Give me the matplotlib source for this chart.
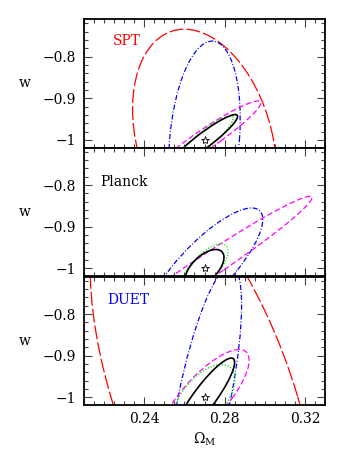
import numpy as np
import matplotlib
matplotlib.use("Agg")
import matplotlib.pyplot as plt
from matplotlib.patches import Ellipse
from matplotlib.ticker import FixedLocator, FixedFormatter, MultipleLocator

plt.rcParams['font.family'] = ['DejaVu Serif']
plt.rcParams['mathtext.fontset'] = 'dejavuserif'
plt.rcParams['lines.scale_dashes'] = False

# ---------------- data ----------------
panel_names = ["SPT", "Planck", "DUET"]
panel_label_colors = ["#ff0000", "#000000", "#0000ff"]

fid_om = 0.27      # fiducial Omega_M (star)
fid_w = -1.0       # fiducial w (star)

# contour order: red, blue, magenta, green, black
contour_colors = ["#ff0000", "#0000ff", "#ff00ff", "#00ee00", "#000000"]

# half-extent in Omega_M, half-extent in w, correlation  (nan = not shown)
spt_om_extent = [0.0358, 0.0178, 0.0280, 0.0142, 0.0165]
spt_w_extent = [0.2655, 0.2370, 0.0935, 0.0580, 0.0610]
spt_corr = [-0.28, 0.213, 0.95, 0.90, 0.93]

planck_om_extent = [np.nan, 0.0290, 0.0535, 0.0117, 0.0097]
planck_w_extent = [np.nan, 0.1450, 0.1730, 0.0590, 0.0455]
planck_corr = [np.nan, 0.81, 0.98, 0.70, 0.58]

duet_om_extent = [0.0569, 0.01846, 0.0222, 0.0152, 0.0150]
duet_w_extent = [0.533, 0.315, 0.115, 0.079, 0.0945]
duet_corr = [-0.576, 0.70, 0.775, 0.55, 0.89]

x_ticks = [0.24, 0.28, 0.32]
x_tick_labels = ["0.24", "0.28", "0.32"]
y_ticks = [-1.0, -0.9, -0.8]
y_tick_labels = ["\u22121", "\u22120.9", "\u22120.8"]

# ---------------- styling ----------------
styles = [
    dict(ls=(0, (10, 2.2)), lw=0.9),
    dict(ls=(0, (3.6, 1.4, 0.7, 1.4)), lw=0.9),
    dict(ls=(0, (4, 2)), lw=0.9),
    dict(ls=(0, (0.8, 1.3)), lw=1.0),
    dict(ls='-', lw=1.2),
]

panels_data = [
    (spt_om_extent, spt_w_extent, spt_corr),
    (planck_om_extent, planck_w_extent, planck_corr),
    (duet_om_extent, duet_w_extent, duet_corr),
]

fig = plt.figure(figsize=(3.42, 4.51), dpi=100)
W, H = 342.0, 451.0
left, right = 84 / W, 325 / W
tops_px = [19, 147.5, 276.5]
h_px = 128.5

label_pos = [(0.12, 0.83), (0.066, 0.735), (0.095, 0.82)]

for i, (name, (oms, ws, rhos)) in enumerate(zip(panel_names, panels_data)):
    bottom = (H - tops_px[i] - h_px) / H
    ax = fig.add_axes([left, bottom, right - left, h_px / H])
    ax.set_xlim(0.21, 0.33)
    ax.set_ylim(-1.018, -0.71)

    for j in range(len(contour_colors)):
        sx, sy, r = oms[j], ws[j], rhos[j]
        if np.isnan(sx):
            continue
        cov = np.array([[sx * sx, r * sx * sy], [r * sx * sy, sy * sy]])
        vals, vecs = np.linalg.eigh(cov)
        ang = np.degrees(np.arctan2(vecs[1, 1], vecs[0, 1]))
        e = Ellipse((fid_om, fid_w), 2 * np.sqrt(vals[1]), 2 * np.sqrt(vals[0]),
                    angle=ang, fill=False, edgecolor=contour_colors[j],
                    linestyle=styles[j]['ls'], linewidth=styles[j]['lw'])
        ax.add_patch(e)

    ax.plot([fid_om], [fid_w], marker='*', ms=6, mfc='white', mec='black',
            mew=0.6, ls='none')

    ax.text(label_pos[i][0], label_pos[i][1], name, transform=ax.transAxes,
            color=panel_label_colors[i], fontsize=10, va='center', ha='left')

    ax.xaxis.set_major_locator(FixedLocator(x_ticks))
    ax.xaxis.set_minor_locator(MultipleLocator(0.005))
    ax.yaxis.set_major_locator(FixedLocator(y_ticks))
    ax.yaxis.set_major_formatter(FixedFormatter(y_tick_labels))
    ax.yaxis.set_minor_locator(MultipleLocator(0.02))
    ax.tick_params(which='both', direction='in', top=True, right=True,
                   width=0.8, labelsize=10, color='#444444')
    ax.tick_params(which='major', length=6)
    ax.tick_params(which='minor', length=3)
    ax.tick_params(axis='y', pad=6)
    ax.tick_params(axis='x', pad=5)
    for sp in ax.spines.values():
        sp.set_linewidth(1.3)

    ax.text(-0.245, 0.5, 'w', transform=ax.transAxes, fontsize=10,
            ha='center', va='center')

    if i < 2:
        ax.tick_params(axis='x', labelbottom=False)
    else:
        ax.xaxis.set_major_formatter(FixedFormatter(x_tick_labels))
        ax.set_xlabel(r'$\Omega_{\rm M}$', fontsize=10, labelpad=3)

fig.savefig('out.png', dpi=100)
